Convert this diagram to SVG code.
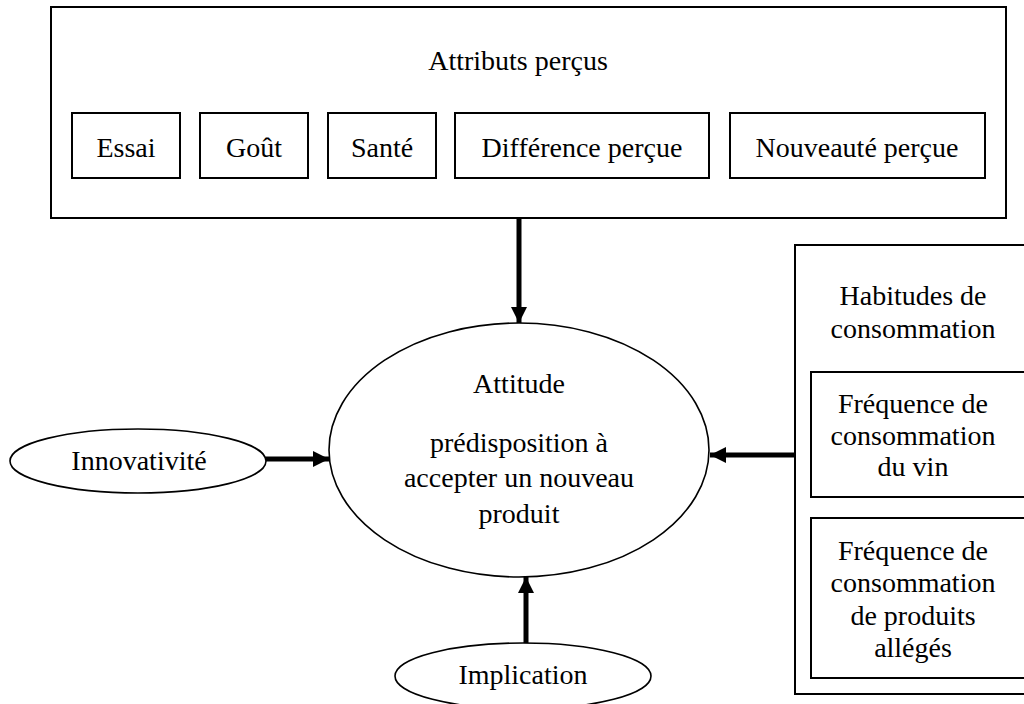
<svg xmlns="http://www.w3.org/2000/svg" width="1024" height="704" viewBox="0 0 1024 704">
  <style>
    .box { fill: #ffffff; stroke: #000000; stroke-width: 2; }
    .oval { fill: #ffffff; stroke: #000000; stroke-width: 1.6; }
    .lbl { font-family: "Liberation Serif", "Times New Roman", serif; font-size: 28px; fill: #000000; text-anchor: middle; }
    .link { stroke: #000000; stroke-width: 5; fill: none; }
  </style>
  <defs>
    <marker id="head" viewBox="0 0 10 10" refX="10" refY="5" markerWidth="3.2" markerHeight="3.2" markerUnits="strokeWidth" orient="auto">
      <path d="M0,0 L10,5 L0,10 Z" fill="#000000"/>
    </marker>
  </defs>

  <rect width="1024" height="704" fill="#ffffff"/>

  <!-- Perceived attributes panel -->
  <g id="attributs">
    <rect class="box" x="51" y="7" width="955" height="211"/>
    <text class="lbl" x="518" y="70">Attributs perçus</text>
  </g>
  <g id="essai">
    <rect class="box" x="72" y="113" width="108" height="65"/>
    <text class="lbl" x="126" y="157">Essai</text>
  </g>
  <g id="gout">
    <rect class="box" x="200" y="113" width="108" height="65"/>
    <text class="lbl" x="254" y="157">Goût</text>
  </g>
  <g id="sante">
    <rect class="box" x="328" y="113" width="108" height="65"/>
    <text class="lbl" x="382" y="157">Santé</text>
  </g>
  <g id="difference">
    <rect class="box" x="455" y="113" width="254" height="65"/>
    <text class="lbl" x="582" y="157">Différence perçue</text>
  </g>
  <g id="nouveaute">
    <rect class="box" x="730" y="113" width="255" height="65"/>
    <text class="lbl" x="857" y="157">Nouveauté perçue</text>
  </g>

  <!-- Central attitude -->
  <g id="attitude">
    <ellipse class="oval" cx="519" cy="450" rx="190" ry="127"/>
    <text class="lbl" x="519" y="393">Attitude</text>
    <text class="lbl" x="519" y="452">prédisposition à</text>
    <text class="lbl" x="519" y="487">accepter un nouveau</text>
    <text class="lbl" x="519" y="523">produit</text>
  </g>

  <g id="innovativite">
    <ellipse class="oval" cx="138" cy="461" rx="128" ry="32"/>
    <text class="lbl" x="139" y="470">Innovativité</text>
  </g>

  <g id="implication">
    <ellipse class="oval" cx="523" cy="676" rx="128" ry="33"/>
    <text class="lbl" x="523" y="684">Implication</text>
  </g>

  <!-- Consumption habits panel -->
  <g id="habitudes">
    <rect class="box" x="795" y="245" width="240" height="449"/>
    <text class="lbl" x="913" y="305">Habitudes de</text>
    <text class="lbl" x="913" y="338">consommation</text>
  </g>
  <g id="freq-vin">
    <rect class="box" x="811" y="372" width="220" height="125"/>
    <text class="lbl" x="913" y="413">Fréquence de</text>
    <text class="lbl" x="913" y="445">consommation</text>
    <text class="lbl" x="913" y="476">du vin</text>
  </g>
  <g id="freq-alleges">
    <rect class="box" x="811" y="518" width="220" height="160"/>
    <text class="lbl" x="913" y="560">Fréquence de</text>
    <text class="lbl" x="913" y="592">consommation</text>
    <text class="lbl" x="913" y="625">de produits</text>
    <text class="lbl" x="913" y="657">allégés</text>
  </g>

  <!-- Connectors -->
  <g id="connectors">
    <line class="link" x1="519" y1="219" x2="519" y2="323" marker-end="url(#head)"/>
    <line class="link" x1="266" y1="459" x2="329" y2="459" marker-end="url(#head)"/>
    <line class="link" x1="795" y1="455" x2="710" y2="455" marker-end="url(#head)"/>
    <line class="link" x1="526" y1="643" x2="526" y2="577" marker-end="url(#head)"/>
  </g>
</svg>
